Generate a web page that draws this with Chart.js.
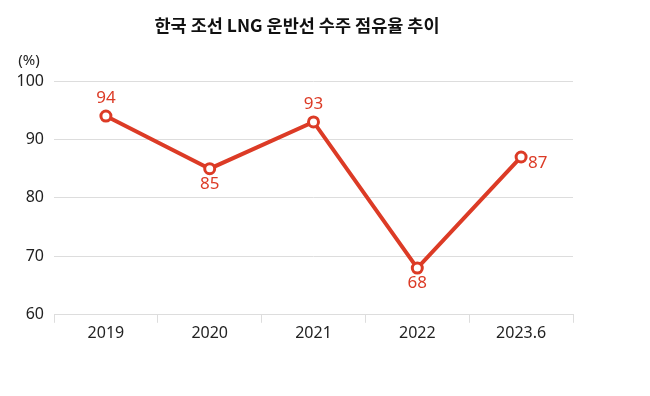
<!DOCTYPE html>
<html>
<head>
<meta charset="utf-8">
<script src="https://cdn.jsdelivr.net/npm/chart.js@4.4.0/dist/chart.umd.min.js"></script>
<style>
  html, body { margin: 0; padding: 0; background: #fff; }
  #wrap { width: 650px; height: 396px; }
</style>
</head>
<body>
<div id="wrap"><canvas id="lineChart"></canvas></div>
<script>
var titleText = "한국 조선 LNG 운반선 수주 점유율 추이";
var years = ["2019", "2020", "2021", "2022", "2023.6"];
var shares = [94, 85, 93, 68, 87];
// where each value label sits relative to its point
var labelPos = ["top", "bottom", "top", "bottom", "right"];

var red = "#dc3b26";
var fontFamily = "'Noto Sans', 'Noto Sans CJK KR', sans-serif";

var extrasPlugin = {
  id: "extras",
  afterDatasetsDraw: function(chart) {
    var ctx = chart.ctx;
    var meta = chart.getDatasetMeta(0);
    ctx.save();
    ctx.font = "17px " + fontFamily;
    ctx.fillStyle = red;
    meta.data.forEach(function(pt, i) {
      var pos = labelPos[i];
      var x = pt.x, y = pt.y;
      if (pos === "top") { ctx.textAlign = "center"; ctx.textBaseline = "bottom"; y -= 9; }
      else if (pos === "bottom") { ctx.textAlign = "center"; ctx.textBaseline = "top"; y += 7; }
      else { ctx.textAlign = "left"; ctx.textBaseline = "top"; x += 7; y -= 2; }
      ctx.fillText(String(shares[i]), x, y);
    });
    // unit label above the y axis
    ctx.fillStyle = "#222";
    ctx.font = "15px " + fontFamily;
    ctx.textAlign = "center";
    ctx.textBaseline = "middle";
    ctx.fillText("(%)", 29, 61);
    // title
    ctx.font = "bold 17.5px 'Noto Sans CJK KR', sans-serif";
    ctx.fillStyle = "#111";
    ctx.fillText(titleText, 297, 25);
    ctx.restore();
  }
};

var chartEl = document.getElementById("lineChart");
var myChart = new Chart(chartEl, {
  type: "line",
  data: {
    labels: years,
    datasets: [{
      data: shares,
      borderColor: red,
      borderWidth: 4,
      pointRadius: 5,
      pointBorderWidth: 3,
      pointBackgroundColor: "#fff",
      pointBorderColor: red,
      tension: 0
    }]
  },
  options: {
    responsive: true,
    maintainAspectRatio: false,
    animation: false,
    layout: { padding: { top: 81, right: 77, bottom: 52, left: 0 } },
    plugins: { legend: { display: false }, tooltip: { enabled: false } },
    scales: {
      x: {
        offset: true,
        grid: { offset: true, drawOnChartArea: false, color: "#ddd", tickLength: 8 },
        border: { color: "#ddd", width: 1 },
        ticks: { color: "#222", font: { size: 16, family: fontFamily }, padding: 1 }
      },
      y: {
        min: 60,
        max: 100,
        ticks: { stepSize: 10, color: "#222", font: { size: 16, family: fontFamily }, padding: 10 },
        grid: { color: "#ddd", drawTicks: false },
        border: { display: false },
        afterFit: function(scale) { scale.width = 54; }
      }
    }
  },
  plugins: [extrasPlugin]
});
</script>
</body>
</html>
